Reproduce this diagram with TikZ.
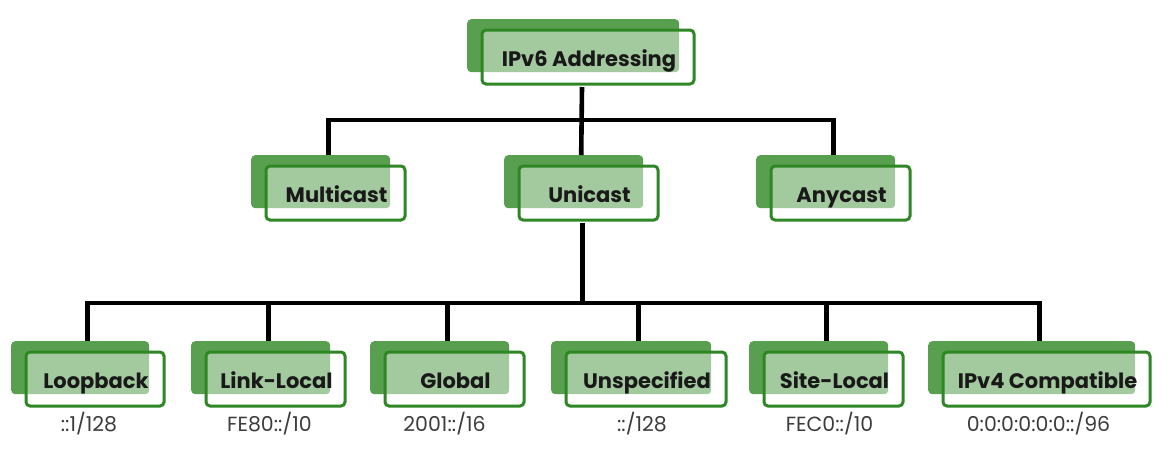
\documentclass[tikz,border=0pt]{standalone}
\usepackage{fontspec}
\setmainfont{Poppins}
\definecolor{backg}{RGB}{88,160,80}
\definecolor{edgeg}{RGB}{46,134,36}
\definecolor{lblgray}{RGB}{60,60,60}
\definecolor{txtdark}{RGB}{25,25,25}
\tikzset{
  backbox/.style={fill=backg, draw=none, rounded corners=4pt, minimum height=53pt, inner sep=0pt},
  frontbox/.style={draw=edgeg, line width=3pt, fill=white, fill opacity=0.45, draw opacity=1,
    rounded corners=4pt, minimum height=54pt, inner sep=0pt},
  boxtext/.style={inner sep=0pt, text=txtdark, font=\fontsize{21}{25}\selectfont\bfseries},
  lbl/.style={inner sep=0pt, text=lblgray, font=\fontsize{20.5}{24}\selectfont},
  conn/.style={draw=black, line width=4.6pt},
}
\newcommand\gbox[5]{%
  \node[backbox, minimum width=#4pt, anchor=north west] (#1b) at (#2,#3) {};
  \node[frontbox, minimum width=#4pt, anchor=north west] (#1) at ([xshift=13.5pt,yshift=-9.5pt]#1b.north west) {};
  \node[boxtext, anchor=base] (#1t) at ([xshift=1pt,yshift=-9.5pt]#1.center) {#5};
  \coordinate (#1N) at ([xshift=7.5pt]#1b.north);
  \coordinate (#1S) at ([xshift=-6pt,yshift=-1.5pt]#1.south);
}
\begin{document}
\begin{tikzpicture}[x=1pt,y=-1pt]
\useasboundingbox (0,0) rectangle (1176,451);
\gbox{top}{467}{19}{212}{IPv6 Addressing}
\gbox{multicast}{251}{155}{139}{Multicast}
\gbox{unicast}{504}{155}{139}{Unicast}
\gbox{anycast}{756}{155}{139}{Anycast}
\gbox{loopback}{11}{341}{138}{Loopback}
\gbox{linklocal}{191}{341}{139}{Link-Local}
\gbox{global}{370}{341}{139}{Global}
\gbox{unspec}{551}{341}{160}{Unspecified}
\gbox{sitelocal}{749}{341}{139}{Site-Local}
\gbox{ipv4}{928}{341}{207}{IPv4 Compatible}
% labels
\node[lbl, anchor=base] (loopbackL) at ([yshift=-22pt]loopbackS) {::1/128};
\node[lbl, anchor=base] (linklocalL) at ([yshift=-22pt]linklocalS) {FE80::/10};
\node[lbl, anchor=base] (globalL) at ([xshift=-4pt,yshift=-22pt]globalS) {2001::/16};
\node[lbl, anchor=base] (unspecL) at ([xshift=2pt,yshift=-22pt]unspecS) {::/128};
\node[lbl, anchor=base] (sitelocalL) at ([xshift=2pt,yshift=-22pt]sitelocalS) {FEC0::/10};
\node[lbl, anchor=base] (ipv4L) at ([xshift=-2pt,yshift=-22pt]ipv4S) {0:0:0:0:0:0::/96};
% connectors level 1
\draw[conn] (topS) -- (unicastN);
\draw[conn] (multicastN) -- ++(0,-35) -| (anycastN);
% connectors level 2
\path (loopbackN) ++(0,-38) coordinate (bus);
\draw[conn] (loopbackN) -- (bus) -| (ipv4N);
\draw[conn] (unicastS) -- (unicastS |- bus);
\draw[conn] (linklocalN) -- (linklocalN |- bus);
\draw[conn] (globalN) -- (globalN |- bus);
\draw[conn] (unspecN) -- (unspecN |- bus);
\draw[conn] (sitelocalN) -- (sitelocalN |- bus);
\end{tikzpicture}
\end{document}
